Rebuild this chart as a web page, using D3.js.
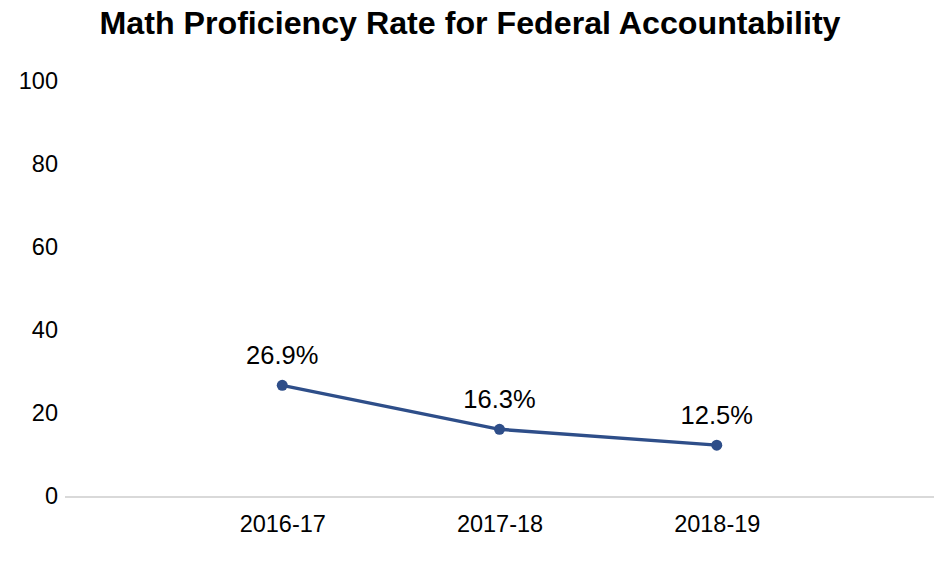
<!DOCTYPE html>
<html>
<head>
<meta charset="utf-8">
<script src="https://cdn.jsdelivr.net/npm/d3@7"></script>
<style>
  body { margin: 0; background: #fff; }
  text { font-family: Arial, "Liberation Sans", sans-serif; fill: #000; }
</style>
</head>
<body>
<div id="chart"></div>
<script>
// data
const years = ["2016-17", "2017-18", "2018-19"];
const rates = [26.9, 16.3, 12.5];
const yTicks = [0, 20, 40, 60, 80, 100];
const chartTitle = "Math Proficiency Rate for Federal Accountability";

const W = 940, H = 573;
const margin = { top: 82, right: 6, bottom: 76, left: 65 },
  width = W - margin.left - margin.right,
  height = H - margin.top - margin.bottom;

const svg = d3.select("#chart").append("svg")
  .attr("width", W).attr("height", H);

svg.append("text")
  .attr("x", 470).attr("y", 34)
  .attr("text-anchor", "middle")
  .style("font-size", "32.2px")
  .style("font-weight", "bold")
  .text(chartTitle);

const g = svg.append("g").attr("transform", `translate(${margin.left},${margin.top})`);

const x = d3.scalePoint().domain(years).range([0, width]).padding(1);
const y = d3.scaleLinear().domain([0, 100]).range([height, 0]);

// y axis labels (no line)
const yAxis = g.append("g")
  .attr("transform", "translate(-7,0)")
  .call(d3.axisLeft(y).tickValues(yTicks).tickSize(0).tickPadding(0));
yAxis.select(".domain").remove();
yAxis.selectAll("text").style("font-size", "23.5px").attr("dy", "0.28em");

// baseline
g.append("line")
  .attr("x1", 0).attr("x2", width)
  .attr("y1", y(0)).attr("y2", y(0))
  .style("stroke", "#d9d9d9").style("stroke-width", 2);

// x axis labels
const xAxis = g.append("g")
  .attr("transform", `translate(0,${height})`)
  .call(d3.axisBottom(x).tickSize(0).tickPadding(18));
xAxis.select(".domain").remove();
xAxis.selectAll("text").style("font-size", "23.5px");

const line = d3.line()
  .x((d, i) => x(years[i]))
  .y((d) => y(d));

g.append("path")
  .datum(rates)
  .attr("d", line)
  .style("fill", "none")
  .style("stroke", "#2e4e89")
  .style("stroke-width", 3.5);

g.selectAll("circle.pt")
  .data(rates)
  .join("circle")
  .attr("class", "pt")
  .attr("cx", (d, i) => x(years[i]))
  .attr("cy", (d) => y(d))
  .attr("r", 5.5)
  .style("fill", "#2e4e89");

g.selectAll("text.lbl")
  .data(rates)
  .join("text")
  .attr("class", "lbl")
  .attr("x", (d, i) => x(years[i]))
  .attr("y", (d) => y(d) - 21.5)
  .attr("text-anchor", "middle")
  .style("font-size", "25.5px")
  .text((d) => d.toFixed(1) + "%");
</script>
</body>
</html>
